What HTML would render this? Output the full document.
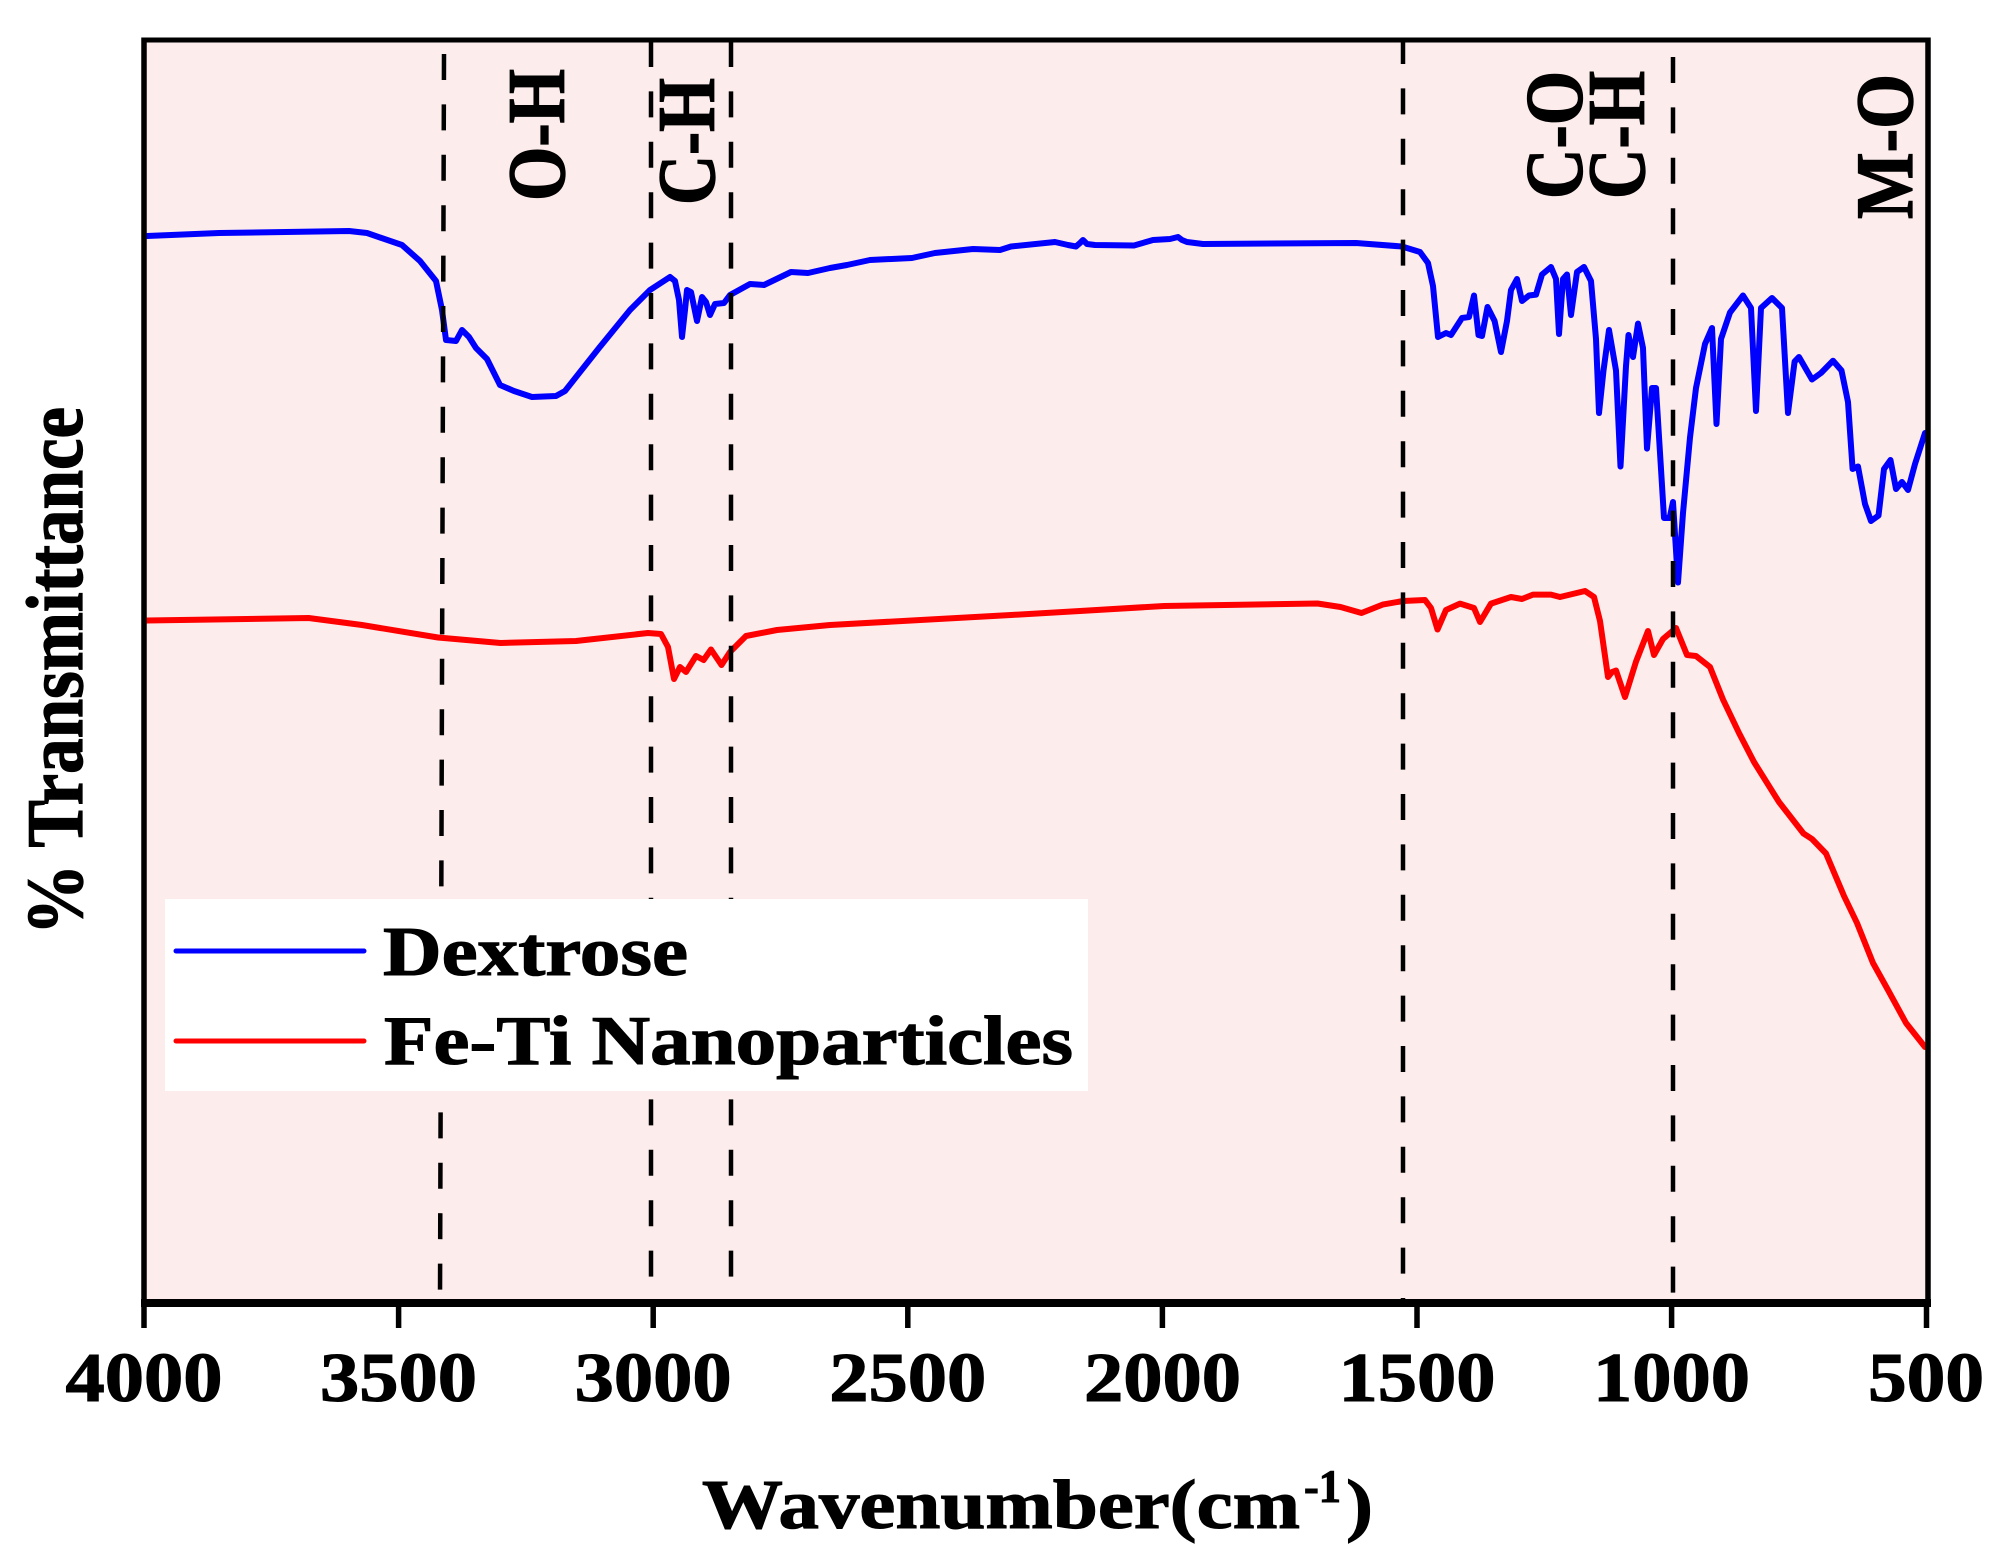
<!DOCTYPE html>
<html>
<head>
<meta charset="utf-8">
<style>
  html,body{margin:0;padding:0;background:#ffffff;}
  svg{display:block;}
  text{font-family:"Liberation Serif","Times New Roman",serif;font-weight:bold;fill:#000;stroke:#000;stroke-width:1.1px;}
</style>
</head>
<body>
<svg width="2008" height="1566" viewBox="0 0 2008 1566" xmlns="http://www.w3.org/2000/svg">
  <rect x="0" y="0" width="2008" height="1566" fill="#ffffff"/>
  <!-- plot background -->
  <rect x="144" y="40" width="1784" height="1263" fill="#fdecec"/>

  <!-- Dextrose (blue) -->
  <polyline fill="none" stroke="#0000ff" stroke-width="6" stroke-linejoin="round" stroke-linecap="round"
    points="147,236 219,233 349,231 367,233 402,245 420,261 436,281 442,310 446,340 456,341 462,330 469,337 476,348 487,359 500,385 514,391 532,397 556,396 565,391 599,348 630,310 650,290 670,277 675,281 679,300 682,337 685,310 687,290 691,292 697,321 702,297 706,302 710,315 715,304 724,303 730,295 750,284 764,285 791,272 808,273 830,268 847,265 870,260 912,258 935,253 973,249 1000,250 1011,246.5 1055,242 1068,245 1076,246.5 1080,243 1083,240 1087,244 1095,245 1134,245.5 1153,240 1170,239 1178,237 1182,240 1187,242 1203,244 1356,243 1402,246.5 1420,252 1428,263 1433,286 1438,337 1446,333 1451,335 1462,318 1469,317 1474,295.5 1478.5,335 1482,336 1487.5,307 1494.6,321 1501,352 1507,321 1511,290 1517,279 1522,301 1529,295.5 1536,294.6 1542,274.5 1551,267 1556,279 1559,334 1563,279 1567,274.5 1571,315 1577,272 1584,267 1591,281 1596,339 1599,413 1603.5,370.5 1609,330 1616,370.5 1620.5,466.5 1626,366 1628.5,335 1633,357 1638,323.6 1643,348 1647,448.6 1652,388 1656,388 1661,469 1664,518 1669.6,518 1673,502 1678,582.5 1683,513 1690,437.5 1696,388 1705,344 1712,328 1716.5,424 1721,339 1730,312.5 1743,295.5 1751,308 1756,411 1761,308 1772,298 1782,308 1788,413 1794.6,361.6 1799,357 1812,379.5 1821,373 1833,360.7 1841.5,370.5 1848,402 1852.6,469 1858,466.5 1865,504 1871,521 1878.5,515.6 1884,469 1890.5,460 1896,489 1902,482 1908,490 1915,464 1925,433"/>

  <!-- Fe-Ti Nanoparticles (red) -->
  <polyline fill="none" stroke="#ff0000" stroke-width="6" stroke-linejoin="round" stroke-linecap="round"
    points="147,620.5 308.6,618 362,625 438,637.5 500.5,643 576,641 648,633 661,634 668,647 674,679 680,667 686,672 696,656 703.6,660 711,649.5 721.5,665 730,652 746,636 777,630 830,625 1011,615 1080,611 1164,606 1317.5,603.5 1340.5,607 1361.5,613 1382.6,604.6 1403,601 1425,600 1431,608 1437.5,629.5 1446,610 1460,603.6 1474,608 1480,622 1491,603.6 1511,597 1522,599 1533,594.6 1551,594.6 1560,597 1585,591 1594,597 1600,621 1608,677 1612,672 1616,670.5 1625,697 1636,661.6 1648,631 1654,655 1663,639 1676,628 1687,655 1696,656 1710,667 1723,699.5 1739,733 1754,762 1779,802 1803.5,833.5 1812,839 1826,853.5 1844,896 1857,923 1873,963 1888,990 1906,1023 1925,1047"/>

  <!-- dashed reference lines -->
  <g stroke="#000" stroke-width="4.5" stroke-dasharray="26 24.4" fill="none">
    <line x1="444" y1="54" x2="440" y2="1300"/>
    <line x1="651" y1="41" x2="651" y2="1300"/>
    <line x1="731" y1="41" x2="731" y2="1300"/>
    <line x1="1403" y1="38" x2="1403" y2="1300"/>
    <line x1="1673" y1="57" x2="1673" y2="1300"/>
  </g>

  <!-- legend -->
  <rect x="165" y="899" width="923" height="192" fill="#ffffff"/>
  <line x1="176" y1="951" x2="364" y2="951" stroke="#0000ff" stroke-width="5" stroke-linecap="round"/>
  <line x1="176" y1="1041" x2="364" y2="1041" stroke="#ff0000" stroke-width="5" stroke-linecap="round"/>
  <text x="383" y="975" font-size="70" textLength="305" lengthAdjust="spacingAndGlyphs">Dextrose</text>
  <text x="384" y="1064" font-size="70" textLength="689" lengthAdjust="spacingAndGlyphs">Fe-Ti Nanoparticles</text>

  <!-- frame -->
  <g stroke="#000" fill="none">
    <line x1="144" y1="40" x2="1928" y2="40" stroke-width="5"/>
    <line x1="144" y1="37.5" x2="144" y2="1307" stroke-width="5.5"/>
    <line x1="1928" y1="37.5" x2="1928" y2="1307" stroke-width="5.5"/>
    <line x1="141" y1="1303" x2="1931" y2="1303" stroke-width="8"/>
  </g>
  <!-- ticks -->
  <g stroke="#000" stroke-width="5.5">
    <line x1="144" y1="1303" x2="144" y2="1328"/>
    <line x1="398.6" y1="1303" x2="398.6" y2="1328"/>
    <line x1="653.2" y1="1303" x2="653.2" y2="1328"/>
    <line x1="907.8" y1="1303" x2="907.8" y2="1328"/>
    <line x1="1162.4" y1="1303" x2="1162.4" y2="1328"/>
    <line x1="1417" y1="1303" x2="1417" y2="1328"/>
    <line x1="1671.6" y1="1303" x2="1671.6" y2="1328"/>
    <line x1="1926.5" y1="1303" x2="1926.5" y2="1328"/>
  </g>

  <!-- tick labels -->
  <g font-size="70">
    <text x="65.5" y="1401" textLength="157" lengthAdjust="spacingAndGlyphs">4000</text>
    <text x="320" y="1401" textLength="157" lengthAdjust="spacingAndGlyphs">3500</text>
    <text x="574.7" y="1401" textLength="157" lengthAdjust="spacingAndGlyphs">3000</text>
    <text x="829.3" y="1401" textLength="157" lengthAdjust="spacingAndGlyphs">2500</text>
    <text x="1084" y="1401" textLength="157" lengthAdjust="spacingAndGlyphs">2000</text>
    <text x="1338.5" y="1401" textLength="157" lengthAdjust="spacingAndGlyphs">1500</text>
    <text x="1593" y="1401" textLength="157" lengthAdjust="spacingAndGlyphs">1000</text>
    <text x="1868" y="1401" textLength="116" lengthAdjust="spacingAndGlyphs">500</text>
  </g>

  <!-- x-axis title -->
  <text x="702" y="1528" font-size="70" textLength="598" lengthAdjust="spacingAndGlyphs">Wavenumber(cm</text>
  <text x="1304" y="1502" font-size="47" textLength="37" lengthAdjust="spacingAndGlyphs">-1</text>
  <text x="1346" y="1528" font-size="70" textLength="27" lengthAdjust="spacingAndGlyphs">)</text>

  <!-- y-axis title -->
  <text transform="translate(82,671) rotate(-90) scale(1,1.15)" x="-264" y="0" font-size="70" textLength="528" lengthAdjust="spacingAndGlyphs">% Transmittance</text>

  <!-- band labels -->
  <g font-size="70">
    <text transform="translate(564,135) rotate(-90) scale(1,1.17)" x="-66" y="0" textLength="132" lengthAdjust="spacingAndGlyphs">O-H</text>
    <text transform="translate(714,141.5) rotate(-90) scale(1,1.17)" x="-63.5" y="0" textLength="127" lengthAdjust="spacingAndGlyphs">C-H</text>
    <text transform="translate(1581.5,135) rotate(-90) scale(1,1.17)" x="-64" y="0" textLength="128" lengthAdjust="spacingAndGlyphs">C-O</text>
    <text transform="translate(1644,135) rotate(-90) scale(1,1.17)" x="-64" y="0" textLength="128" lengthAdjust="spacingAndGlyphs">C-H</text>
    <text transform="translate(1912,146.5) rotate(-90) scale(1,1.17)" x="-72.5" y="0" textLength="145" lengthAdjust="spacingAndGlyphs">M-O</text>
  </g>
</svg>
</body>
</html>
